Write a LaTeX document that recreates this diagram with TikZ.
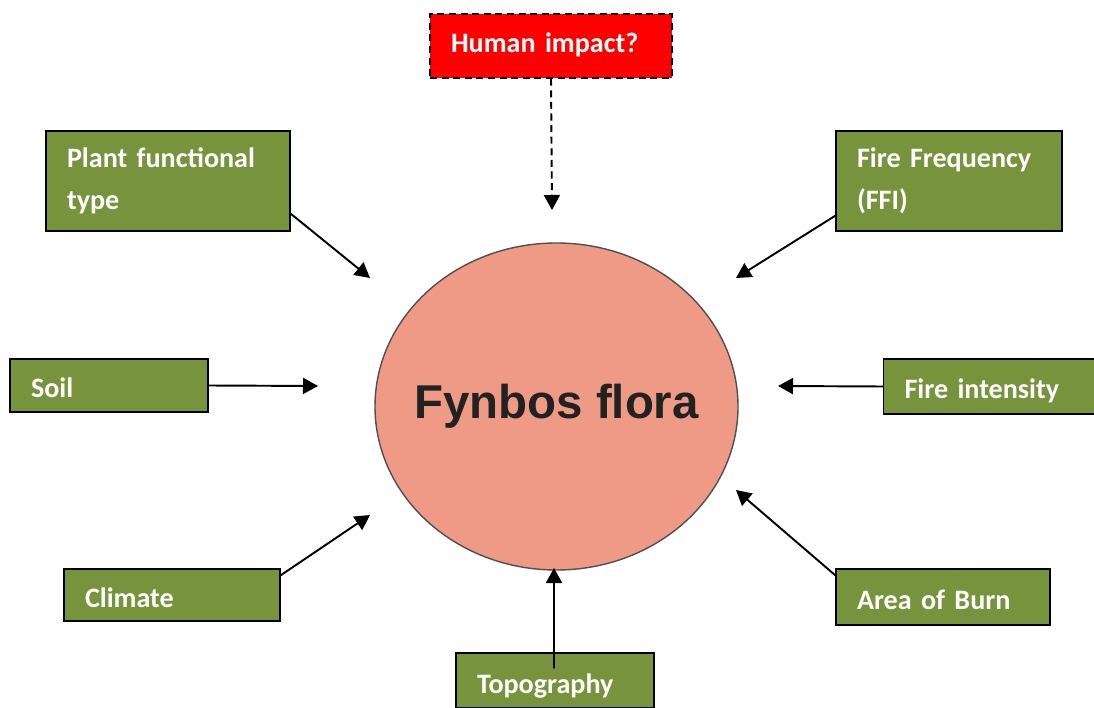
\documentclass[tikz,border=0pt]{standalone}
\usepackage{fontspec}
\setmainfont{Carlito}
\newfontfamily\hubfont{Liberation Sans}
\usepackage{xcolor}
\usepackage{tikz}
\usetikzlibrary{arrows.meta,positioning,calc,shapes.geometric}
\definecolor{FactorGreen}{HTML}{77933C}
\definecolor{HumanRed}{HTML}{FF0000}
\definecolor{FloraPink}{HTML}{EF9A85}
\definecolor{RimGrey}{HTML}{505050}
\definecolor{HubText}{HTML}{222222}

\begin{document}
\begin{tikzpicture}[
  factor/.style={rectangle,draw=black,line width=0.8pt,fill=FactorGreen,text=white,
    font=\fontsize{16}{23.8}\selectfont\bfseries,align=left,inner xsep=0.42cm,inner ysep=0pt},
  oneline/.style={factor,text height=0.7cm,text depth=0.2cm},
  hub/.style={ellipse,draw=RimGrey,line width=0.8pt,fill=FloraPink,
    minimum width=7.26cm,minimum height=6.54cm,inner xsep=-1.5cm,inner ysep=0pt,
    font=\hubfont\fontsize{27}{30}\selectfont\bfseries,text=HubText},
  edge/.style={-{Triangle[length=3mm,width=3.2mm]},line width=1.1pt,black},
  dashline/.style={dash pattern=on 4pt off 2.6pt}
]
\useasboundingbox (0,0) rectangle (21.88,14.14);

% centre
\node[hub] (flora) at (11.13,6.01) {Fynbos flora};

% factors
\node[factor,dashline,fill=HumanRed,text width=4.0cm,minimum height=1.28cm,
  text height=0.6cm,text depth=0.32cm] (human) at (11.02,13.22) {Human impact?};
\node[factor,text width=4.04cm,minimum height=2.0cm] (pft) at (3.36,10.52) {Plant functional\\type};
\node[factor,text width=3.68cm,minimum height=2.0cm] (ffi) at (18.98,10.52) {Fire Frequency\\(FFI)};
\node[oneline,text width=3.12cm,minimum height=1.06cm] (soil) at (2.18,6.43) {Soil};
\node[oneline,text width=3.56cm,minimum height=1.1cm] (intens) at (19.87,6.41) {Fire intensity};
\node[oneline,text width=3.48cm,minimum height=1.04cm] (clim) at (3.44,2.24) {Climate};
\node[oneline,text width=3.44cm,minimum height=1.12cm] (burn) at (18.86,2.2) {Area of Burn};
\node[oneline,text width=3.12cm,minimum height=1.1cm] (topo) at (11.1,0.53) {Topography};

% arrow ends near the centre
\coordinate (tHuman) at (11.04,9.94);
\coordinate (tPft) at (7.40,8.58);
\coordinate (tFfi) at (14.72,8.58);
\coordinate (tSoil) at (6.36,6.42);
\coordinate (tInt) at (15.56,6.42);
\coordinate (tClim) at (7.40,3.84);
\coordinate (tBurn) at (14.72,4.34);
\coordinate (tTopo) at (11.08,2.78);

\draw[edge,dashline] (human.south) -- (tHuman);
\draw[edge] ($(pft.south east)+(0,0.36)$) -- (tPft);
\draw[edge] ($(ffi.south west)+(0,0.32)$) -- (tFfi);
\draw[edge] (soil.east) -- (tSoil);
\draw[edge] (intens.west) -- (tInt);
\draw[edge] ($(clim.north east)+(0,-0.14)$) -- (tClim);
\draw[edge] ($(burn.north west)+(0,-0.14)$) -- (tBurn);
\draw[edge] ($(topo.north)+(-0.02,-0.32)$) -- (tTopo);
\end{tikzpicture}
\end{document}
